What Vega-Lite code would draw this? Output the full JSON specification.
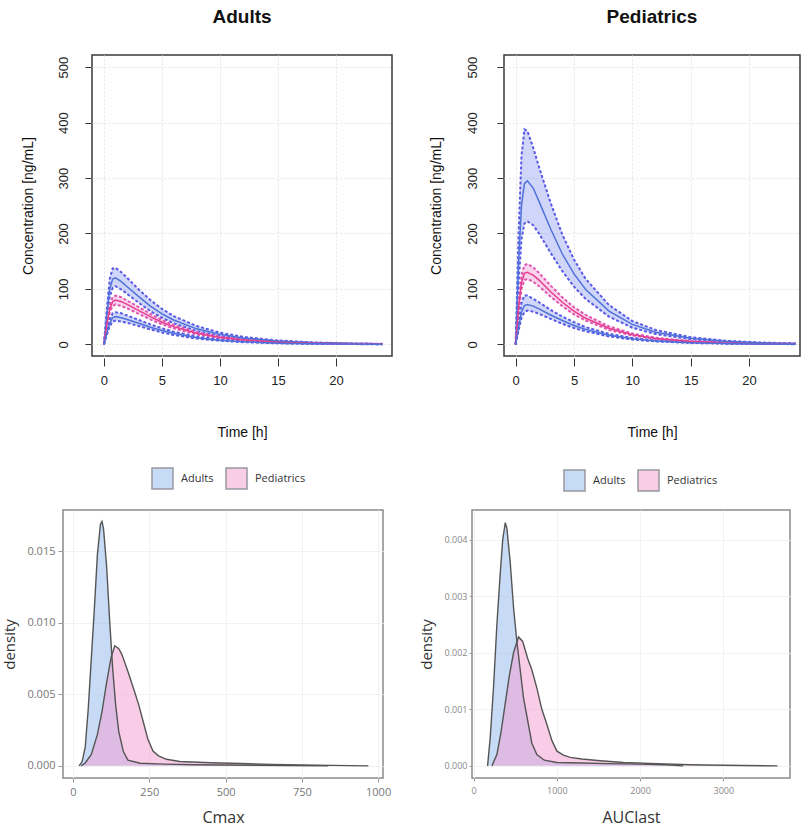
{
  "$schema": "https://vega.github.io/schema/vega-lite/v6.json",
  "background": "white",
  "padding": {"left": 2, "top": 7, "right": 2, "bottom": 2},
  "config": {"font": "Liberation Sans"},
  "datasets": {
    "conc": [
      {"p":"A","g":"p95","t":0,"lo":0,"m":0,"hi":0},
      {"p":"A","g":"p95","t":0.25,"lo":46,"m":55,"hi":65},
      {"p":"A","g":"p95","t":0.5,"lo":86,"m":100,"hi":118},
      {"p":"A","g":"p95","t":0.75,"lo":102,"m":118,"hi":137},
      {"p":"A","g":"p95","t":1,"lo":105,"m":120,"hi":138},
      {"p":"A","g":"p95","t":1.5,"lo":99,"m":113,"hi":130},
      {"p":"A","g":"p95","t":2,"lo":91,"m":104,"hi":120},
      {"p":"A","g":"p95","t":3,"lo":75,"m":86,"hi":99},
      {"p":"A","g":"p95","t":4,"lo":60,"m":69,"hi":80},
      {"p":"A","g":"p95","t":5,"lo":48,"m":55,"hi":64},
      {"p":"A","g":"p95","t":6,"lo":38,"m":44,"hi":51},
      {"p":"A","g":"p95","t":8,"lo":24,"m":28,"hi":33},
      {"p":"A","g":"p95","t":10,"lo":15.5,"m":18,"hi":21},
      {"p":"A","g":"p95","t":12,"lo":10,"m":11.5,"hi":13.5},
      {"p":"A","g":"p95","t":15,"lo":5.2,"m":6,"hi":7},
      {"p":"A","g":"p95","t":18,"lo":2.6,"m":3,"hi":3.6},
      {"p":"A","g":"p95","t":21,"lo":1.3,"m":1.6,"hi":1.9},
      {"p":"A","g":"p95","t":24,"lo":0.7,"m":0.8,"hi":1},
      {"p":"A","g":"p50","t":0,"lo":0,"m":0,"hi":0},
      {"p":"A","g":"p50","t":0.25,"lo":31,"m":35,"hi":39},
      {"p":"A","g":"p50","t":0.5,"lo":58,"m":64,"hi":71},
      {"p":"A","g":"p50","t":0.75,"lo":69,"m":77,"hi":85},
      {"p":"A","g":"p50","t":1,"lo":72,"m":80,"hi":88},
      {"p":"A","g":"p50","t":1.5,"lo":69,"m":77,"hi":85},
      {"p":"A","g":"p50","t":2,"lo":65,"m":72,"hi":79},
      {"p":"A","g":"p50","t":3,"lo":55,"m":61,"hi":67},
      {"p":"A","g":"p50","t":4,"lo":45,"m":50,"hi":55},
      {"p":"A","g":"p50","t":5,"lo":36,"m":40,"hi":44},
      {"p":"A","g":"p50","t":6,"lo":29,"m":32,"hi":35},
      {"p":"A","g":"p50","t":8,"lo":18,"m":20,"hi":22},
      {"p":"A","g":"p50","t":10,"lo":11,"m":12.5,"hi":14},
      {"p":"A","g":"p50","t":12,"lo":7,"m":8,"hi":9},
      {"p":"A","g":"p50","t":15,"lo":3.6,"m":4,"hi":4.5},
      {"p":"A","g":"p50","t":18,"lo":1.8,"m":2,"hi":2.3},
      {"p":"A","g":"p50","t":21,"lo":0.9,"m":1,"hi":1.2},
      {"p":"A","g":"p50","t":24,"lo":0.45,"m":0.5,"hi":0.6},
      {"p":"A","g":"p5","t":0,"lo":0,"m":0,"hi":0},
      {"p":"A","g":"p5","t":0.25,"lo":17,"m":20,"hi":24},
      {"p":"A","g":"p5","t":0.5,"lo":33,"m":38,"hi":45},
      {"p":"A","g":"p5","t":0.75,"lo":41,"m":48,"hi":56},
      {"p":"A","g":"p5","t":1,"lo":43,"m":50,"hi":58},
      {"p":"A","g":"p5","t":1.5,"lo":41,"m":48,"hi":56},
      {"p":"A","g":"p5","t":2,"lo":39,"m":45,"hi":52},
      {"p":"A","g":"p5","t":3,"lo":33,"m":38,"hi":44},
      {"p":"A","g":"p5","t":4,"lo":27,"m":31,"hi":36},
      {"p":"A","g":"p5","t":5,"lo":21.5,"m":25,"hi":29},
      {"p":"A","g":"p5","t":6,"lo":17,"m":20,"hi":23},
      {"p":"A","g":"p5","t":8,"lo":10.4,"m":12,"hi":14},
      {"p":"A","g":"p5","t":10,"lo":6.5,"m":7.5,"hi":8.7},
      {"p":"A","g":"p5","t":12,"lo":4,"m":4.6,"hi":5.4},
      {"p":"A","g":"p5","t":15,"lo":1.9,"m":2.2,"hi":2.6},
      {"p":"A","g":"p5","t":18,"lo":0.95,"m":1.1,"hi":1.3},
      {"p":"A","g":"p5","t":21,"lo":0.5,"m":0.6,"hi":0.7},
      {"p":"A","g":"p5","t":24,"lo":0.25,"m":0.3,"hi":0.35},
      {"p":"P","g":"p95","t":0,"lo":0,"m":0,"hi":0},
      {"p":"P","g":"p95","t":0.25,"lo":110,"m":150,"hi":200},
      {"p":"P","g":"p95","t":0.5,"lo":190,"m":250,"hi":340},
      {"p":"P","g":"p95","t":0.75,"lo":218,"m":290,"hi":388},
      {"p":"P","g":"p95","t":1,"lo":222,"m":295,"hi":385},
      {"p":"P","g":"p95","t":1.5,"lo":215,"m":282,"hi":355},
      {"p":"P","g":"p95","t":2,"lo":200,"m":258,"hi":320},
      {"p":"P","g":"p95","t":3,"lo":165,"m":208,"hi":255},
      {"p":"P","g":"p95","t":4,"lo":132,"m":163,"hi":198},
      {"p":"P","g":"p95","t":5,"lo":104,"m":127,"hi":153},
      {"p":"P","g":"p95","t":6,"lo":82,"m":99,"hi":118},
      {"p":"P","g":"p95","t":8,"lo":50,"m":60,"hi":71},
      {"p":"P","g":"p95","t":10,"lo":30,"m":36,"hi":42},
      {"p":"P","g":"p95","t":12,"lo":18.5,"m":22,"hi":26},
      {"p":"P","g":"p95","t":15,"lo":9.3,"m":11,"hi":13},
      {"p":"P","g":"p95","t":18,"lo":4.6,"m":5.5,"hi":6.5},
      {"p":"P","g":"p95","t":21,"lo":2.3,"m":2.8,"hi":3.3},
      {"p":"P","g":"p95","t":24,"lo":1.2,"m":1.4,"hi":1.7},
      {"p":"P","g":"p50","t":0,"lo":0,"m":0,"hi":0},
      {"p":"P","g":"p50","t":0.25,"lo":58,"m":65,"hi":73},
      {"p":"P","g":"p50","t":0.5,"lo":100,"m":112,"hi":125},
      {"p":"P","g":"p50","t":0.75,"lo":116,"m":128,"hi":143},
      {"p":"P","g":"p50","t":1,"lo":118,"m":130,"hi":145},
      {"p":"P","g":"p50","t":1.5,"lo":113,"m":125,"hi":139},
      {"p":"P","g":"p50","t":2,"lo":105,"m":116,"hi":129},
      {"p":"P","g":"p50","t":3,"lo":86,"m":95,"hi":106},
      {"p":"P","g":"p50","t":4,"lo":69,"m":76,"hi":85},
      {"p":"P","g":"p50","t":5,"lo":54,"m":60,"hi":67},
      {"p":"P","g":"p50","t":6,"lo":43,"m":47,"hi":53},
      {"p":"P","g":"p50","t":8,"lo":26,"m":29,"hi":32.5},
      {"p":"P","g":"p50","t":10,"lo":16,"m":17.5,"hi":19.6},
      {"p":"P","g":"p50","t":12,"lo":9.7,"m":10.7,"hi":12},
      {"p":"P","g":"p50","t":15,"lo":4.8,"m":5.3,"hi":6},
      {"p":"P","g":"p50","t":18,"lo":2.4,"m":2.6,"hi":2.9},
      {"p":"P","g":"p50","t":21,"lo":1.2,"m":1.3,"hi":1.5},
      {"p":"P","g":"p50","t":24,"lo":0.6,"m":0.7,"hi":0.8},
      {"p":"P","g":"p5","t":0,"lo":0,"m":0,"hi":0},
      {"p":"P","g":"p5","t":0.25,"lo":25,"m":30,"hi":38},
      {"p":"P","g":"p5","t":0.5,"lo":48,"m":58,"hi":75},
      {"p":"P","g":"p5","t":0.75,"lo":58,"m":70,"hi":88},
      {"p":"P","g":"p5","t":1,"lo":61,"m":72,"hi":88},
      {"p":"P","g":"p5","t":1.5,"lo":59,"m":69,"hi":82},
      {"p":"P","g":"p5","t":2,"lo":55,"m":64,"hi":76},
      {"p":"P","g":"p5","t":3,"lo":46,"m":53,"hi":62},
      {"p":"P","g":"p5","t":4,"lo":37,"m":43,"hi":50},
      {"p":"P","g":"p5","t":5,"lo":29.5,"m":34,"hi":40},
      {"p":"P","g":"p5","t":6,"lo":23.5,"m":27,"hi":31},
      {"p":"P","g":"p5","t":8,"lo":14.3,"m":16.5,"hi":19},
      {"p":"P","g":"p5","t":10,"lo":8.7,"m":10,"hi":11.5},
      {"p":"P","g":"p5","t":12,"lo":5.2,"m":6,"hi":7},
      {"p":"P","g":"p5","t":15,"lo":2.6,"m":3,"hi":3.5},
      {"p":"P","g":"p5","t":18,"lo":1.3,"m":1.5,"hi":1.7},
      {"p":"P","g":"p5","t":21,"lo":0.65,"m":0.75,"hi":0.9},
      {"p":"P","g":"p5","t":24,"lo":0.35,"m":0.4,"hi":0.45}
    ],
    "dens": [
      {"k":"Cmax","g":"Adults","x":20,"d":0},
      {"k":"Cmax","g":"Adults","x":30,"d":0.0003},
      {"k":"Cmax","g":"Adults","x":40,"d":0.0013},
      {"k":"Cmax","g":"Adults","x":50,"d":0.004},
      {"k":"Cmax","g":"Adults","x":60,"d":0.0075},
      {"k":"Cmax","g":"Adults","x":70,"d":0.011},
      {"k":"Cmax","g":"Adults","x":80,"d":0.0148},
      {"k":"Cmax","g":"Adults","x":90,"d":0.0169},
      {"k":"Cmax","g":"Adults","x":95,"d":0.0171},
      {"k":"Cmax","g":"Adults","x":100,"d":0.0166},
      {"k":"Cmax","g":"Adults","x":110,"d":0.014},
      {"k":"Cmax","g":"Adults","x":120,"d":0.0102},
      {"k":"Cmax","g":"Adults","x":130,"d":0.0068},
      {"k":"Cmax","g":"Adults","x":140,"d":0.0042},
      {"k":"Cmax","g":"Adults","x":150,"d":0.0024},
      {"k":"Cmax","g":"Adults","x":165,"d":0.001},
      {"k":"Cmax","g":"Adults","x":180,"d":0.0004},
      {"k":"Cmax","g":"Adults","x":220,"d":0.00018},
      {"k":"Cmax","g":"Adults","x":300,"d":0.00012},
      {"k":"Cmax","g":"Adults","x":400,"d":0.00008},
      {"k":"Cmax","g":"Adults","x":500,"d":0.00006},
      {"k":"Cmax","g":"Adults","x":600,"d":0.00004},
      {"k":"Cmax","g":"Adults","x":700,"d":0.00002},
      {"k":"Cmax","g":"Adults","x":836,"d":0},
      {"k":"Cmax","g":"Pediatrics","x":27,"d":0},
      {"k":"Cmax","g":"Pediatrics","x":40,"d":0.0002},
      {"k":"Cmax","g":"Pediatrics","x":60,"d":0.0008},
      {"k":"Cmax","g":"Pediatrics","x":80,"d":0.0022},
      {"k":"Cmax","g":"Pediatrics","x":95,"d":0.0038},
      {"k":"Cmax","g":"Pediatrics","x":110,"d":0.0058},
      {"k":"Cmax","g":"Pediatrics","x":125,"d":0.0076},
      {"k":"Cmax","g":"Pediatrics","x":137,"d":0.0084},
      {"k":"Cmax","g":"Pediatrics","x":150,"d":0.0082},
      {"k":"Cmax","g":"Pediatrics","x":160,"d":0.0078},
      {"k":"Cmax","g":"Pediatrics","x":180,"d":0.0066},
      {"k":"Cmax","g":"Pediatrics","x":197,"d":0.0055},
      {"k":"Cmax","g":"Pediatrics","x":215,"d":0.0043},
      {"k":"Cmax","g":"Pediatrics","x":230,"d":0.0031},
      {"k":"Cmax","g":"Pediatrics","x":245,"d":0.0019},
      {"k":"Cmax","g":"Pediatrics","x":262,"d":0.00104},
      {"k":"Cmax","g":"Pediatrics","x":280,"d":0.0007},
      {"k":"Cmax","g":"Pediatrics","x":306,"d":0.00046},
      {"k":"Cmax","g":"Pediatrics","x":350,"d":0.0003},
      {"k":"Cmax","g":"Pediatrics","x":450,"d":0.00022},
      {"k":"Cmax","g":"Pediatrics","x":550,"d":0.00016},
      {"k":"Cmax","g":"Pediatrics","x":650,"d":0.0001},
      {"k":"Cmax","g":"Pediatrics","x":750,"d":0.00006},
      {"k":"Cmax","g":"Pediatrics","x":850,"d":0.00003},
      {"k":"Cmax","g":"Pediatrics","x":968,"d":0},
      {"k":"AUClast","g":"Adults","x":168,"d":0},
      {"k":"AUClast","g":"Adults","x":200,"d":0.0005},
      {"k":"AUClast","g":"Adults","x":240,"d":0.0014},
      {"k":"AUClast","g":"Adults","x":280,"d":0.0025},
      {"k":"AUClast","g":"Adults","x":320,"d":0.0034},
      {"k":"AUClast","g":"Adults","x":350,"d":0.004},
      {"k":"AUClast","g":"Adults","x":381,"d":0.0043},
      {"k":"AUClast","g":"Adults","x":400,"d":0.0042},
      {"k":"AUClast","g":"Adults","x":440,"d":0.0036},
      {"k":"AUClast","g":"Adults","x":480,"d":0.0028},
      {"k":"AUClast","g":"Adults","x":520,"d":0.0022},
      {"k":"AUClast","g":"Adults","x":560,"d":0.0017},
      {"k":"AUClast","g":"Adults","x":600,"d":0.0012},
      {"k":"AUClast","g":"Adults","x":650,"d":0.0008},
      {"k":"AUClast","g":"Adults","x":700,"d":0.0004},
      {"k":"AUClast","g":"Adults","x":760,"d":0.0002},
      {"k":"AUClast","g":"Adults","x":850,"d":0.0001},
      {"k":"AUClast","g":"Adults","x":1000,"d":0.00006},
      {"k":"AUClast","g":"Adults","x":1300,"d":0.00005},
      {"k":"AUClast","g":"Adults","x":1600,"d":0.00004},
      {"k":"AUClast","g":"Adults","x":2000,"d":0.00003},
      {"k":"AUClast","g":"Adults","x":2300,"d":0.00002},
      {"k":"AUClast","g":"Adults","x":2520,"d":0},
      {"k":"AUClast","g":"Pediatrics","x":220,"d":0},
      {"k":"AUClast","g":"Pediatrics","x":280,"d":0.0002},
      {"k":"AUClast","g":"Pediatrics","x":330,"d":0.0006},
      {"k":"AUClast","g":"Pediatrics","x":380,"d":0.0011},
      {"k":"AUClast","g":"Pediatrics","x":430,"d":0.0016},
      {"k":"AUClast","g":"Pediatrics","x":480,"d":0.002},
      {"k":"AUClast","g":"Pediatrics","x":540,"d":0.00228},
      {"k":"AUClast","g":"Pediatrics","x":590,"d":0.0022},
      {"k":"AUClast","g":"Pediatrics","x":650,"d":0.0019},
      {"k":"AUClast","g":"Pediatrics","x":700,"d":0.0017},
      {"k":"AUClast","g":"Pediatrics","x":761,"d":0.00137},
      {"k":"AUClast","g":"Pediatrics","x":820,"d":0.001},
      {"k":"AUClast","g":"Pediatrics","x":881,"d":0.00073},
      {"k":"AUClast","g":"Pediatrics","x":940,"d":0.00045},
      {"k":"AUClast","g":"Pediatrics","x":1001,"d":0.00026},
      {"k":"AUClast","g":"Pediatrics","x":1080,"d":0.00019},
      {"k":"AUClast","g":"Pediatrics","x":1161,"d":0.00015},
      {"k":"AUClast","g":"Pediatrics","x":1300,"d":0.00012},
      {"k":"AUClast","g":"Pediatrics","x":1521,"d":0.00009},
      {"k":"AUClast","g":"Pediatrics","x":1800,"d":0.00006},
      {"k":"AUClast","g":"Pediatrics","x":2200,"d":0.00004},
      {"k":"AUClast","g":"Pediatrics","x":2600,"d":0.00002},
      {"k":"AUClast","g":"Pediatrics","x":3000,"d":0.00001},
      {"k":"AUClast","g":"Pediatrics","x":3650,"d":0}
    ]
  },
  "vconcat": [
    {
      "spacing": -47,
      "hconcat": [
        {"width": 1, "height": 1, "view": {"stroke": null}, "data": {"values": [{"a": 0}]}, "mark": {"type": "point", "opacity": 0}, "encoding": {}},
        {
          "spacing": 35,
          "hconcat": [
            {
              "title": {"text": "Adults", "fontSize": 19, "fontWeight": "bold", "offset": 28, "color": "#111", "anchor": "middle"},
              "width": 300, "height": 301,
              "view": {"stroke": "#3a3a3a", "strokeWidth": 1.5},
              "data": {"name": "conc"},
              "transform": [{"filter": "datum.p === 'A'"}],
              "encoding": {
                "x": {"field": "t", "type": "quantitative", "title": "Time [h]",
                  "scale": {"domain": [-1.03, 24.83], "nice": false, "zero": false},
                  "axis": {"values": [0,5,10,15,20], "domain": false, "offset": 2, "tickSize": 8, "tickColor": "#333", "labelPadding": 8, "labelFontSize": 13, "labelColor": "#222", "titleFontSize": 14, "titleFontWeight": "normal", "titleColor": "#111", "titlePadding": 38, "grid": true, "gridColor": "#e4e4e4", "gridDash": [2,2]}}
              },
              "layer": [
                {"mark": {"type": "area", "opacity": 0.38},
                 "encoding": {
                   "y": {"field": "lo", "type": "quantitative", "title": "Concentration [ng/mL]",
                     "scale": {"domain": [-21, 522], "nice": false, "zero": false},
                     "axis": {"values": [0,100,200,300,400,500], "domain": false, "offset": 1, "tickSize": 6, "tickColor": "#333", "labelAngle": 270, "labelAlign": "center", "labelBaseline": "bottom", "labelPadding": 15, "labelFontSize": 13, "labelColor": "#222", "titleFontSize": 14, "titleFontWeight": "normal", "titleColor": "#111", "titlePadding": 22, "grid": true, "gridColor": "#e4e4e4", "gridDash": [2,2]}},
                   "y2": {"field": "hi"},
                   "fill": {"field": "g", "type": "nominal", "scale": {"domain": ["p5","p50","p95"], "range": ["#8394ee","#f28ccd","#8394ee"]}, "legend": null}}},
                {"mark": {"type": "line", "strokeDash": [3,2], "strokeWidth": 2},
                 "encoding": {"y": {"field": "lo", "type": "quantitative", "title": "Concentration [ng/mL]"},
                   "stroke": {"field": "g", "type": "nominal", "scale": {"domain": ["p5","p50","p95"], "range": ["#5a5ae8","#e055b0","#5a5ae8"]}, "legend": null}}},
                {"mark": {"type": "line", "strokeDash": [3,2], "strokeWidth": 2},
                 "encoding": {"y": {"field": "hi", "type": "quantitative", "title": "Concentration [ng/mL]"},
                   "stroke": {"field": "g", "type": "nominal", "scale": {"domain": ["p5","p50","p95"], "range": ["#5a5ae8","#e055b0","#5a5ae8"]}, "legend": null}}},
                {"mark": {"type": "line", "strokeWidth": 1.5},
                 "encoding": {"y": {"field": "m", "type": "quantitative", "title": "Concentration [ng/mL]"},
                   "stroke": {"field": "g", "type": "nominal", "scale": {"domain": ["p5","p50","p95"], "range": ["#4f72d8","#e43f8e","#4f72d8"]}, "legend": null}}}
              ],
              "resolve": {"scale": {"stroke": "independent"}}
            },
            {
              "title": {"text": "Pediatrics", "fontSize": 19, "fontWeight": "bold", "offset": 28, "color": "#111", "anchor": "middle"},
              "width": 296, "height": 301,
              "view": {"stroke": "#3a3a3a", "strokeWidth": 1.5},
              "data": {"name": "conc"},
              "transform": [{"filter": "datum.p === 'P'"}],
              "encoding": {
                "x": {"field": "t", "type": "quantitative", "title": "Time [h]",
                  "scale": {"domain": [-1.0, 24.37], "nice": false, "zero": false},
                  "axis": {"values": [0,5,10,15,20], "domain": false, "offset": 2, "tickSize": 8, "tickColor": "#333", "labelPadding": 8, "labelFontSize": 13, "labelColor": "#222", "titleFontSize": 14, "titleFontWeight": "normal", "titleColor": "#111", "titlePadding": 38, "grid": true, "gridColor": "#e4e4e4", "gridDash": [2,2]}}
              },
              "layer": [
                {"mark": {"type": "area", "opacity": 0.38},
                 "encoding": {
                   "y": {"field": "lo", "type": "quantitative", "title": "Concentration [ng/mL]",
                     "scale": {"domain": [-21, 522], "nice": false, "zero": false},
                     "axis": {"values": [0,100,200,300,400,500], "domain": false, "offset": 1, "tickSize": 6, "tickColor": "#333", "labelAngle": 270, "labelAlign": "center", "labelBaseline": "bottom", "labelPadding": 18, "labelFontSize": 13, "labelColor": "#222", "titleFontSize": 14, "titleFontWeight": "normal", "titleColor": "#111", "titlePadding": 23, "grid": true, "gridColor": "#e4e4e4", "gridDash": [2,2]}},
                   "y2": {"field": "hi"},
                   "fill": {"field": "g", "type": "nominal", "scale": {"domain": ["p5","p50","p95"], "range": ["#8394ee","#f28ccd","#8394ee"]}, "legend": null}}},
                {"mark": {"type": "line", "strokeDash": [3,2], "strokeWidth": 2},
                 "encoding": {"y": {"field": "lo", "type": "quantitative", "title": "Concentration [ng/mL]"},
                   "stroke": {"field": "g", "type": "nominal", "scale": {"domain": ["p5","p50","p95"], "range": ["#5a5ae8","#e055b0","#5a5ae8"]}, "legend": null}}},
                {"mark": {"type": "line", "strokeDash": [3,2], "strokeWidth": 2},
                 "encoding": {"y": {"field": "hi", "type": "quantitative", "title": "Concentration [ng/mL]"},
                   "stroke": {"field": "g", "type": "nominal", "scale": {"domain": ["p5","p50","p95"], "range": ["#5a5ae8","#e055b0","#5a5ae8"]}, "legend": null}}},
                {"mark": {"type": "line", "strokeWidth": 1.5},
                 "encoding": {"y": {"field": "m", "type": "quantitative", "title": "Concentration [ng/mL]"},
                   "stroke": {"field": "g", "type": "nominal", "scale": {"domain": ["p5","p50","p95"], "range": ["#4f72d8","#e43f8e","#4f72d8"]}, "legend": null}}}
              ],
              "resolve": {"scale": {"stroke": "independent"}}
            }
          ]
        }
      ]
    },
    {
      "spacing": 26,
      "resolve": {"scale": {"fill": "independent"}, "legend": {"fill": "independent"}},
      "hconcat": [
        {
          "width": 320, "height": 268,
          "view": {"stroke": "#8a8a8a", "strokeWidth": 1.5},
          "data": {"name": "dens"},
          "transform": [{"filter": "datum.k === 'Cmax'"}],
          "encoding": {
            "x": {"field": "x", "type": "quantitative", "title": "Cmax",
              "scale": {"domain": [-32.8, 1016], "nice": false, "zero": false},
              "axis": {"values": [0,250,500,750,1000], "format": "d", "domain": false, "tickSize": 4, "tickColor": "#999", "labelPadding": 4, "labelFont": "Open Sans", "labelFontSize": 11, "labelColor": "#777", "titleFont": "Open Sans", "titleFontSize": 16, "titleFontWeight": "normal", "titleColor": "#333", "titlePadding": 12, "grid": true, "gridColor": "#f2f2f2"}},
            "y": {"field": "d", "type": "quantitative", "title": "density", "stack": null,
              "scale": {"domain": [-0.00085, 0.0179], "nice": false, "zero": false},
              "axis": {"values": [0,0.005,0.01,0.015], "format": ".3f", "domain": false, "tickSize": 5, "tickColor": "#999", "labelPadding": 3, "labelFont": "Open Sans", "labelFontSize": 11, "labelColor": "#777", "titleFont": "Open Sans", "titleFontSize": 15, "titleFontWeight": "normal", "titleColor": "#333", "titlePadding": 9, "grid": true, "gridColor": "#f2f2f2"}}
          },
          "layer": [
            {"mark": {"type": "area", "opacity": 0.5},
             "encoding": {"fill": {"field": "g", "type": "nominal", "scale": {"domain": ["Adults","Pediatrics"], "range": ["#8fb8ee","#f39ccf"]},
               "legend": {"orient": "none", "legendX": 88, "legendY": -43, "direction": "horizontal", "title": null, "symbolType": "square", "symbolSize": 441, "symbolStrokeColor": "#333344", "symbolStrokeWidth": 1.5, "labelFont": "Open Sans", "labelFontSize": 11, "labelColor": "#333", "labelOffset": 7, "columnPadding": 9, "padding": 0}}}},
            {"mark": {"type": "line", "color": "#555", "strokeWidth": 1.4},
             "encoding": {"detail": {"field": "g"}}}
          ]
        },
        {
          "width": 318, "height": 268,
          "view": {"stroke": "#8a8a8a", "strokeWidth": 1.5},
          "data": {"name": "dens"},
          "transform": [{"filter": "datum.k === 'AUClast'"}],
          "encoding": {
            "x": {"field": "x", "type": "quantitative", "title": "AUClast",
              "scale": {"domain": [-19, 3801], "nice": false, "zero": false},
              "axis": {"values": [0,1000,2000,3000], "format": "d", "domain": false, "tickSize": 3, "tickColor": "#999", "labelPadding": 5, "labelFont": "Open Sans", "labelFontSize": 9, "labelColor": "#888", "titleFont": "Open Sans", "titleFontSize": 16, "titleFontWeight": "normal", "titleColor": "#333", "titlePadding": 14, "grid": true, "gridColor": "#f2f2f2"}},
            "y": {"field": "d", "type": "quantitative", "title": "density", "stack": null,
              "scale": {"domain": [-0.000215, 0.004525], "nice": false, "zero": false},
              "axis": {"values": [0,0.001,0.002,0.003,0.004], "format": ".3f", "domain": false, "tickSize": 3, "tickColor": "#999", "labelPadding": 2, "labelFont": "Open Sans", "labelFontSize": 9, "labelColor": "#888", "titleFont": "Open Sans", "titleFontSize": 15, "titleFontWeight": "normal", "titleColor": "#333", "titlePadding": 10, "grid": true, "gridColor": "#f2f2f2"}}
          },
          "layer": [
            {"mark": {"type": "area", "opacity": 0.5},
             "encoding": {"fill": {"field": "g", "type": "nominal", "scale": {"domain": ["Adults","Pediatrics"], "range": ["#8fb8ee","#f39ccf"]},
               "legend": {"orient": "none", "legendX": 91, "legendY": -41, "direction": "horizontal", "title": null, "symbolType": "square", "symbolSize": 441, "symbolStrokeColor": "#333344", "symbolStrokeWidth": 1.5, "labelFont": "Open Sans", "labelFontSize": 11, "labelColor": "#333", "labelOffset": 7, "columnPadding": 9, "padding": 0}}}},
            {"mark": {"type": "line", "color": "#555", "strokeWidth": 1.4},
             "encoding": {"detail": {"field": "g"}}}
          ]
        }
      ]
    }
  ],
  "spacing": 26,
  "resolve": {"scale": {"fill": "independent", "stroke": "independent"}, "legend": {"fill": "independent", "stroke": "independent"}}
}
